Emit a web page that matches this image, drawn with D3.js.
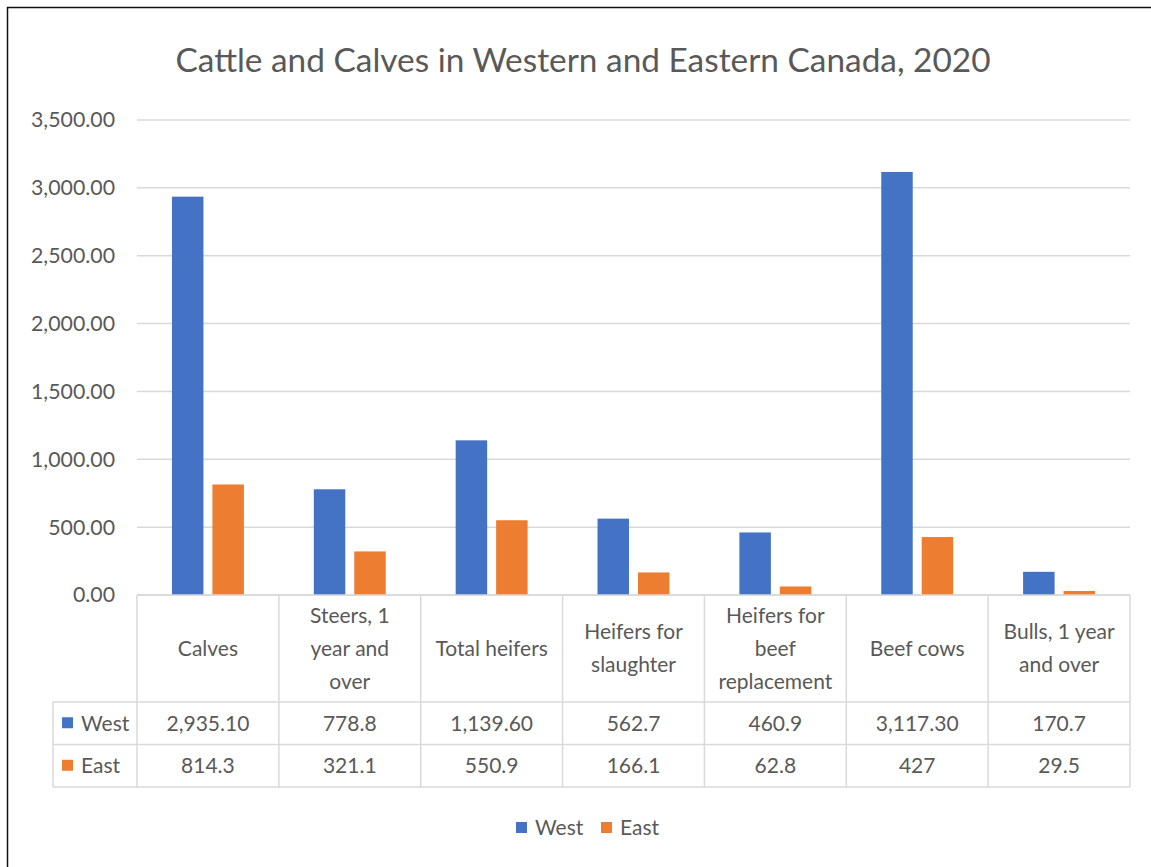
<!DOCTYPE html>
<meta charset="utf-8">
<html>
<head>
<style>
  body { margin: 0; background: #fff; }
  text { font-family: Lato, "Open Sans", sans-serif; fill: #595959; }
</style>
</head>
<body>
<div id="chart"></div>
<script src="https://d3js.org/d3.v7.min.js"></script>
<script>

  var categories = ["Calves", "Steers, 1 year and over", "Total heifers", "Heifers for slaughter",
                    "Heifers for beef replacement", "Beef cows", "Bulls, 1 year and over"];
  var categoryLines = [["Calves"], ["Steers, 1", "year and", "over"], ["Total heifers"],
                       ["Heifers for", "slaughter"], ["Heifers for", "beef", "replacement"],
                       ["Beef cows"], ["Bulls, 1 year", "and over"]];
  var series = ["West", "East"];
  var westValues = [2935.1, 778.8, 1139.6, 562.7, 460.9, 3117.3, 170.7];
  var eastValues = [814.3, 321.1, 550.9, 166.1, 62.8, 427, 29.5];
  var westLabels = ["2,935.10", "778.8", "1,139.60", "562.7", "460.9", "3,117.30", "170.7"];
  var eastLabels = ["814.3", "321.1", "550.9", "166.1", "62.8", "427", "29.5"];
  var yTicks = [0, 500, 1000, 1500, 2000, 2500, 3000, 3500];
  var colors = {West: "#4472C4", East: "#ED7D31"};

  var W = 1151, H = 867;
  var plot = {left: 137, right: 1130, top: 120, bottom: 595};
  var headerBottom = 702, rowH = 42.5, keyLeft = 53;
  var gridColor = "#d9d9d9";
  var fs = "21px";

  var svg = d3.select("#chart").append("svg")
      .attr("width", W)
      .attr("height", H);

  // outer frame (only top and left edges show)
  svg.append("rect")
      .attr("x", 7.5).attr("y", 7.5)
      .attr("width", W + 20).attr("height", H + 20)
      .attr("fill", "none")
      .attr("stroke", "#111")
      .attr("stroke-width", 1.5);

  // title
  svg.append("text")
      .attr("x", 583).attr("y", 72)
      .attr("text-anchor", "middle")
      .style("font-size", "33.4px")
      .text("Cattle and Calves in Western and Eastern Canada, 2020");

  // scales
  var x = d3.scaleBand()
      .domain(categories)
      .range([plot.left, plot.right]);

  var xs = d3.scaleBand()
      .domain(series)
      .range([0, x.bandwidth()])
      .paddingInner(0.222)
      .paddingOuter(0.864);

  var y = d3.scaleLinear()
      .domain([0, 3500])
      .range([plot.bottom, plot.top]);

  // gridlines
  svg.append("g")
    .selectAll("line")
    .data(yTicks)
    .join("line")
      .attr("x1", plot.left).attr("x2", plot.right)
      .attr("y1", function(d) { return y(d); })
      .attr("y2", function(d) { return y(d); })
      .attr("stroke", gridColor)
      .attr("stroke-width", 1.5);

  // y axis labels
  svg.append("g")
    .selectAll("text")
    .data(yTicks)
    .join("text")
      .attr("x", 115)
      .attr("y", function(d) { return y(d); })
      .attr("dy", "0.35em")
      .attr("text-anchor", "end")
      .style("font-size", "21.3px")
      .text(d3.format(",.2f"));

  // bars
  var rows = categories.map(function(c, i) {
    return {cat: c, West: westValues[i], East: eastValues[i]};
  });

  var groups = svg.append("g")
    .selectAll("g")
    .data(rows)
    .join("g")
      .attr("transform", function(d) { return "translate(" + x(d.cat) + ",0)"; });

  groups.selectAll("rect")
    .data(function(d) { return series.map(function(s) { return {s: s, v: d[s]}; }); })
    .join("rect")
      .attr("x", function(d) { return xs(d.s); })
      .attr("y", function(d) { return y(d.v); })
      .attr("width", xs.bandwidth())
      .attr("height", function(d) { return y(0) - y(d.v); })
      .attr("fill", function(d) { return colors[d.s]; });

  // data table
  var table = svg.append("g")
      .attr("stroke", gridColor)
      .attr("stroke-width", 1.5);

  var hLines = [
    {x1: plot.left, y: plot.bottom},
    {x1: keyLeft, y: headerBottom},
    {x1: keyLeft, y: headerBottom + rowH},
    {x1: keyLeft, y: headerBottom + 2 * rowH}
  ];
  table.selectAll("line.h")
    .data(hLines)
    .join("line")
      .attr("class", "h")
      .attr("x1", function(d) { return d.x1; })
      .attr("x2", plot.right)
      .attr("y1", function(d) { return d.y; })
      .attr("y2", function(d) { return d.y; });

  var vEdges = categories.map(function(c) { return x(c); }).concat([plot.right]);
  table.selectAll("line.v")
    .data(vEdges)
    .join("line")
      .attr("class", "v")
      .attr("x1", function(d) { return d; })
      .attr("x2", function(d) { return d; })
      .attr("y1", plot.bottom)
      .attr("y2", headerBottom + 2 * rowH);

  table.append("line")
      .attr("x1", keyLeft).attr("x2", keyLeft)
      .attr("y1", headerBottom).attr("y2", headerBottom + 2 * rowH);

  // category header text
  var lineH = 33;
  var headerMid = (plot.bottom + headerBottom) / 2;
  svg.append("g")
    .selectAll("text")
    .data(categories)
    .join("text")
      .attr("text-anchor", "middle")
      .style("font-size", fs)
      .attr("transform", function(d) { return "translate(" + (x(d) + x.bandwidth() / 2) + "," + headerMid + ")"; })
      .each(function(d, i) {
        var lines = categoryLines[i];
        var t = d3.select(this);
        lines.forEach(function(l, j) {
          t.append("tspan")
            .attr("x", 0)
            .attr("y", (j - (lines.length - 1) / 2) * lineH)
            .attr("dy", "0.35em")
            .text(l);
        });
      });

  // table value rows
  var valueRows = [{s: "West", labels: westLabels}, {s: "East", labels: eastLabels}];
  valueRows.forEach(function(r, ri) {
    var cy = headerBottom + rowH * ri + rowH / 2;
    svg.append("g")
      .selectAll("text")
      .data(r.labels)
      .join("text")
        .attr("x", function(d, i) { return x(categories[i]) + x.bandwidth() / 2; })
        .attr("y", cy)
        .attr("dy", "0.35em")
        .attr("text-anchor", "middle")
        .style("font-size", fs)
        .text(function(d) { return d; });

    svg.append("rect")
        .attr("x", 62).attr("y", cy - 6)
        .attr("width", 11).attr("height", 11)
        .attr("fill", colors[r.s]);
    svg.append("text")
        .attr("x", 81).attr("y", cy)
        .attr("dy", "0.35em")
        .style("font-size", fs)
        .text(r.s);
  });

  // legend
  var legendX = [516, 601];
  var legend = svg.append("g")
    .selectAll("g")
    .data(series)
    .join("g")
      .attr("transform", function(d, i) { return "translate(" + legendX[i] + ",828)"; });
  legend.append("rect")
      .attr("y", -6)
      .attr("width", 11).attr("height", 11)
      .attr("fill", function(d) { return colors[d]; });
  legend.append("text")
      .attr("x", 19)
      .attr("dy", "0.35em")
      .style("font-size", fs)
      .text(function(d) { return d; });

</script>
</body>
</html>
